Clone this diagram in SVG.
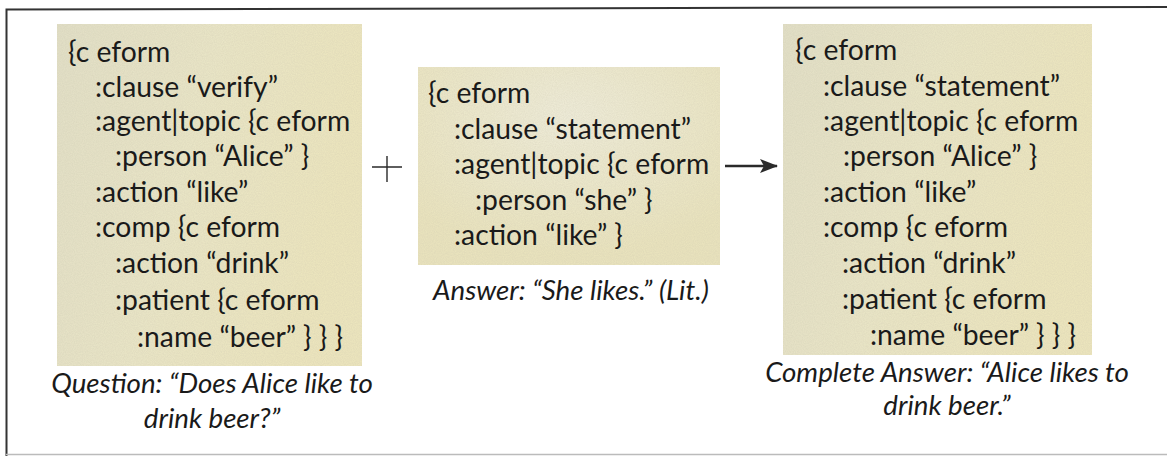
<svg xmlns="http://www.w3.org/2000/svg" width="1167" height="456" viewBox="0 0 1167 456">
  <defs>
    <style>
      .code { font-family: Lato, "Open Sans", sans-serif; font-size: 28.3px; fill: #1a1a1a; }
      .cap { font-family: Lato, "Open Sans", sans-serif; font-size: 27.7px; font-style: italic; fill: #1a1a1a; text-anchor: middle; }
      .frame { stroke: #333; stroke-width: 2; fill: none; }
      .op { stroke: #2a2a2a; fill: none; }
    </style>
    <linearGradient id="paper" x1="0" y1="0" x2="1" y2="0.3">
      <stop offset="0" stop-color="#e2dfc6"/>
      <stop offset="0.5" stop-color="#e9e5c6"/>
      <stop offset="1" stop-color="#ece5bd"/>
    </linearGradient>
    <radialGradient id="paperMid" cx="0.5" cy="0.25" r="0.7">
      <stop offset="0" stop-color="#eeebd8"/>
      <stop offset="1" stop-color="#e9e3bd"/>
    </radialGradient>
    <filter id="grain" x="0" y="0" width="100%" height="100%">
      <feTurbulence type="fractalNoise" baseFrequency="0.9" numOctaves="2" seed="3" result="n"/>
      <feColorMatrix in="n" type="matrix" values="0 0 0 0 0.55  0 0 0 0 0.52  0 0 0 0 0.4  0 0 0 0.4 -0.08" result="g"/>
      <feComposite in="g" in2="SourceGraphic" operator="in" result="gm"/>
      <feMerge><feMergeNode in="SourceGraphic"/><feMergeNode in="gm"/></feMerge>
    </filter>
    <marker id="head" viewBox="0 0 18 14" refX="17" refY="7" markerWidth="18" markerHeight="14" markerUnits="userSpaceOnUse" orient="auto">
      <path d="M0,0 L18,7 L0,14 L4,7 Z" fill="#2a2a2a"/>
    </marker>
  </defs>

  <rect width="1167" height="456" fill="#fff"/>

  <!-- outer frame -->
  <path class="frame" d="M6.5,456 L6.5,9.5 L1167,7"/>
  <line x1="6" y1="454.5" x2="1167" y2="454.5" stroke="#bbb" stroke-width="1.5"/>

  <!-- question eform -->
  <g id="question">
    <rect x="57" y="24" width="305" height="342" fill="url(#paper)" filter="url(#grain)"/>
    <text class="code">
      <tspan x="68" y="62">{c eform</tspan>
      <tspan x="95" y="97">:clause “verify”</tspan>
      <tspan x="95" y="131">:agent|topic {c eform</tspan>
      <tspan x="115" y="166">:person “Alice” }</tspan>
      <tspan x="95" y="202">:action “like”</tspan>
      <tspan x="95" y="237">:comp {c eform</tspan>
      <tspan x="115" y="273">:action “drink”</tspan>
      <tspan x="115" y="310">:patient {c eform</tspan>
      <tspan x="137" y="347">:name “beer” } } }</tspan>
    </text>
    <text class="cap" x="212" y="393">Question: “Does Alice like to</text>
    <text class="cap" x="212" y="428">drink beer?”</text>
  </g>

  <!-- literal answer eform -->
  <g id="answer">
    <rect x="418" y="67" width="302" height="198" fill="url(#paperMid)" filter="url(#grain)"/>
    <text class="code">
      <tspan x="428" y="103">{c eform</tspan>
      <tspan x="454" y="139">:clause “statement”</tspan>
      <tspan x="454" y="174">:agent|topic {c eform</tspan>
      <tspan x="475" y="210">:person “she” }</tspan>
      <tspan x="454" y="245">:action “like” }</tspan>
    </text>
    <text class="cap" x="571" y="300">Answer: “She likes.” (Lit.)</text>
  </g>

  <!-- completed answer eform -->
  <g id="complete">
    <rect x="783" y="24" width="309" height="331" fill="url(#paper)" filter="url(#grain)"/>
    <text class="code">
      <tspan x="795" y="60">{c eform</tspan>
      <tspan x="823" y="96">:clause “statement”</tspan>
      <tspan x="823" y="131">:agent|topic {c eform</tspan>
      <tspan x="843" y="166">:person “Alice” }</tspan>
      <tspan x="823" y="202">:action “like”</tspan>
      <tspan x="823" y="237">:comp {c eform</tspan>
      <tspan x="842" y="273">:action “drink”</tspan>
      <tspan x="842" y="309">:patient {c eform</tspan>
      <tspan x="870" y="345">:name “beer” } } }</tspan>
    </text>
    <text class="cap" x="947" y="382">Complete Answer: “Alice likes to</text>
    <text class="cap" x="947" y="415">drink beer.”</text>
  </g>

  <!-- operators between the forms -->
  <g id="connectors">
    <path class="op" stroke-width="1.4" d="M372,167 H402 M387,156 V182"/>
    <line class="op" x1="725" y1="166" x2="777" y2="166" stroke-width="2.6" marker-end="url(#head)"/>
  </g>
</svg>
